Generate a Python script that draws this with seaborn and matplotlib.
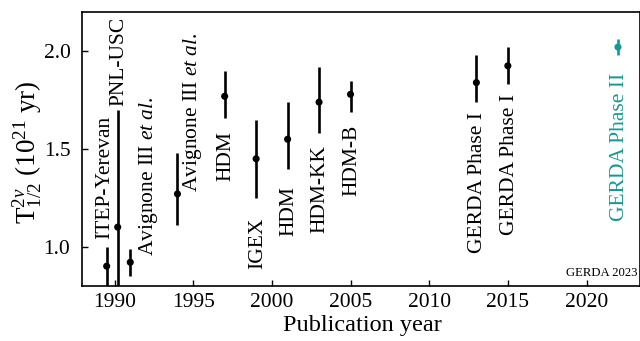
import matplotlib
matplotlib.use("Agg")
import matplotlib.pyplot as plt
import seaborn as sns
import pandas as pd

# ---- data ----
labels = ["ITEP-Yerevan", "PNL-USC", r"Avignone III $\it{et\ al.}$",
          r"Avignone III $\it{et\ al.}$", "HDM", "IGEX", "HDM", "HDM-KK",
          "HDM-B", "GERDA Phase I", "GERDA Phase I", "GERDA Phase II"]
years = [1989.5, 1990.2, 1991.0, 1994.0, 1997.0, 1999.0, 2001.0, 2003.0,
         2005.0, 2013.0, 2015.0, 2022.0]
half_life = [0.90, 1.10, 0.92, 1.27, 1.77, 1.45, 1.55, 1.74, 1.78, 1.84, 1.926, 2.022]
err_up = [0.10, 0.60, 0.07, 0.21, 0.13, 0.20, 0.19, 0.18, 0.07, 0.14, 0.094, 0.04]
err_low = [0.10, 0.30, 0.07, 0.16, 0.11, 0.20, 0.15, 0.16, 0.09, 0.10, 0.094, 0.04]
group = ["past"] * 11 + ["latest"]
x_ticks = [1990, 1995, 2000, 2005, 2010, 2015, 2020]
y_ticks = [1.0, 1.5, 2.0]

# label placement style: (x offset, y offset, anchor relative to: 'up'/'low'/'val', va)
label_style = [
    (-0.1, 0.04, "up", "bottom"),
    (0.05, 0.02, "up", "bottom"),
    (1.15, 0.03, "val", "bottom"),
    (0.96, 0.01, "val", "bottom"),
    (0.1, -0.07, "low", "top"),
    (0.1, -0.10, "low", "top"),
    (0.1, -0.09, "low", "top"),
    (0.06, -0.06, "low", "top"),
    (0.1, -0.065, "low", "top"),
    (0.1, -0.05, "low", "top"),
    (0.1, -0.05, "low", "top"),
    (0.1, -0.09, "low", "top"),
]

TEAL = "#149a93"
palette = {"past": "black", "latest": TEAL}

df = pd.DataFrame({"year": years, "T": half_life, "up": err_up, "low": err_low,
                   "group": group, "label": labels})

sns.set_theme(style="ticks")
plt.rcParams["font.family"] = ["Liberation Serif", "DejaVu Serif"]
plt.rcParams["mathtext.fontset"] = "custom"
plt.rcParams["mathtext.rm"] = "Liberation Serif"
plt.rcParams["mathtext.it"] = "Liberation Serif:italic"
plt.rcParams["mathtext.bf"] = "Liberation Serif:bold"
for k in ["text.color", "axes.labelcolor", "xtick.color", "ytick.color",
          "axes.edgecolor"]:
    plt.rcParams[k] = "black"

fig = plt.figure(figsize=(6.4, 3.41), dpi=100)
ax = fig.add_axes([81.5 / 640, 55.3 / 341, 558.5 / 640, 273.4 / 341])

for g, sub in df.groupby("group"):
    ax.errorbar(sub["year"], sub["T"], yerr=[sub["low"], sub["up"]], fmt="none",
                ecolor=palette[g], elinewidth=1.9, capsize=0, zorder=2)
sns.scatterplot(data=df, x="year", y="T", hue="group", palette=palette,
                s=26, edgecolor="none", legend=False, ax=ax, zorder=3)

for i, row in df.iterrows():
    dx, dy, ref, va = label_style[i]
    if ref == "up":
        base = row["T"] + row["up"]
    elif ref == "low":
        base = row["T"] - row["low"]
    else:
        base = row["T"]
    ax.text(row["year"] + dx, base + dy, row["label"], rotation=90,
            ha="center", va=va, fontsize=15.5, color=palette[row["group"]])

ax.text(0.995, 0.025, "GERDA 2023", transform=ax.transAxes, ha="right",
        va="bottom", fontsize=9.2, color="black")

ax.set_xlim(1987.9, 2023.4)
ax.set_ylim(0.8, 2.2)
ax.set_xticks(x_ticks)
ax.set_yticks(y_ticks)
ax.set_yticklabels([f"{v:.1f}" for v in y_ticks])
ax.tick_params(direction="in", length=4, width=1.0, labelsize=15.5,
               top=False, right=False, colors="black")
ax.tick_params(axis="x", pad=5)
ax.tick_params(axis="y", pad=8)
for sp in ax.spines.values():
    sp.set_visible(True)
    sp.set_linewidth(1.2)
    sp.set_color("black")

ax.set_xlabel("Publication year", fontsize=17.5)
ax.set_ylabel(r"T$^{2\nu}_{1/2}$ (10$^{21}$ yr)", fontsize=19.5)
ax.xaxis.set_label_coords(0.503, -0.107)
ax.yaxis.set_label_coords(-0.066, 0.489)

fig.savefig("out.png", dpi=100)
